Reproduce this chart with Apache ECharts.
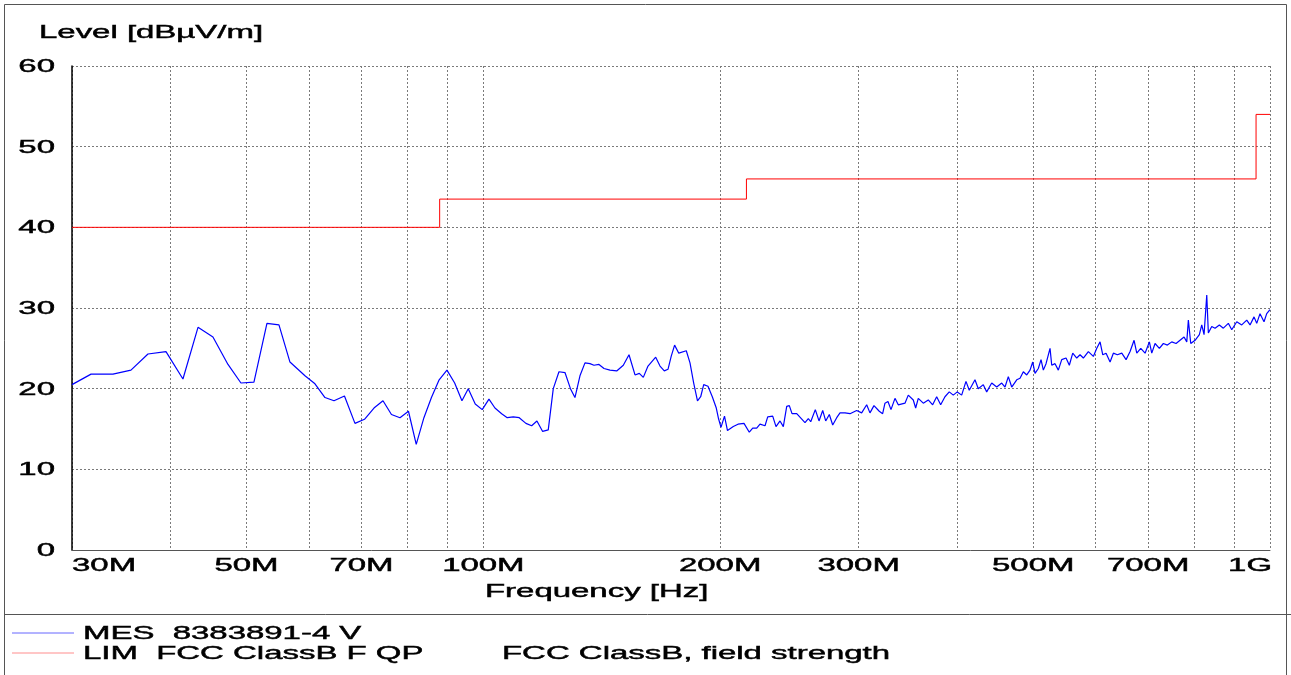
<!DOCTYPE html>
<html>
<head>
<meta charset="utf-8">
<title>Level vs Frequency</title>
<script src="https://cdn.jsdelivr.net/npm/echarts@6/dist/echarts.min.js"></script>
<style>
  html, body { margin: 0; padding: 0; background: #fff; }
  #chart { width: 1291px; height: 675px; }
</style>
</head>
<body>
<div id="chart"></div>
<script>
// frequency in MHz, level in dBµV/m
const yTicks = [0, 10, 20, 30, 40, 50, 60]
const xGridFreqs = [30, 40, 50, 60, 70, 80, 90, 100, 200, 300, 400, 500, 600, 700, 800, 900, 1000]
const xTickFreqs = [30, 50, 70, 100, 200, 300, 500, 700, 1000]
const xTickLabels = ['30M', '50M', '70M', '100M', '200M', '300M', '500M', '700M', '1G']

// limit line (FCC Class B, QP)
const limFreq = [30, 88, 216, 960, 1000]
const limLevel = [40, 43.5, 46, 54, 54]

// measured trace
const mesFreq = [
  30, 31.72, 33.82, 35.65, 37.47, 39.5, 41.51, 43.38, 45.32, 47.36,
  49.19, 51.1, 53.08, 54.98, 56.78, 59.33, 61.09, 62.91, 64.59, 66.6,
  68.68, 70.62, 72.61, 74.55, 76.42, 78.35, 80.32, 82.17, 84.04, 85.91,
  87.87, 89.9, 91.95, 93.93, 95.68, 97.66, 99.68, 101.66, 103.46, 105.51,
  107.25, 109.15, 111.08, 113.28, 115.19, 116.99, 118.96, 120.93, 122.72, 124.78,
  126.99, 129.05, 130.76, 132.69, 134.65, 136.63, 138.24, 140.29, 142.36, 144.88,
  147.75, 150.64, 153.17, 155.89, 157.86, 159.72, 161.93, 165.62, 167.72, 169.84,
  171.69, 173.3, 175.04, 177.2, 181.13, 183.11, 185.1, 187.17, 188.93, 190.6,
  193.01, 195.46, 197.76, 199.04, 200.5, 202.56, 204.35, 207.85, 210.73, 214.46,
  217.82, 220, 222.59, 224.75, 228.07, 229.88, 233.27, 235.53, 238.31, 240.62,
  243.03, 244.89, 246.83, 250.25, 256.4, 258.89, 260.71, 264.24, 267.12, 270.03,
  272.41, 275.3, 278.05, 281.33, 284.06, 288.25, 292.5, 298.25, 302.64, 307.12,
  310.09, 313.74, 318.65, 321.82, 324, 326.87, 329.76, 333.64, 336.87, 343.55,
  346.89, 351.99, 354.47, 357.18, 362.45, 367.79, 372.55, 376.94, 381.38, 386.21,
  391.11, 395.71, 400.37, 405.56, 410.7, 414.69, 421.68, 425.78, 432.06, 436.38,
  442.83, 449.37, 456, 460.43, 464.9, 469.55, 471.77, 476.48, 481.1, 485.78,
  490.64, 495.4, 499.33, 502.7, 507.57, 511.61, 515.07, 519.16, 525.28, 527.89,
  533, 538.18, 543.56, 550.46, 555.8, 561.35, 567.98, 573.5, 579.08, 587.62,
  596.3, 602.27, 608.12, 612.95, 618.9, 626.19, 632.26, 639.7, 648, 656.21,
  663.94, 671.75, 677.09, 685.06, 693.74, 702.52, 707.46, 714.33, 723.37, 731.89,
  740.51, 750.09, 759.59, 768.53, 777.59, 783.77, 787.44, 792.99, 803.04, 813.21,
  818.94, 824.46, 831, 834.9, 843.24, 851.43, 862.2, 872.34, 885.21, 894.06,
  907.26, 920.61, 934.17, 943.23, 954.33, 961.89, 971.22, 982.65, 990.45, 1000
]
const mesLevel = [
  20.5, 21.8, 21.8, 22.3, 24.3, 24.6, 21.2, 27.6, 26.4, 23.0,
  20.7, 20.8, 28.1, 27.9, 23.3, 21.6, 20.6, 18.9, 18.5, 19.1,
  15.7, 16.2, 17.6, 18.5, 16.8, 16.4, 17.2, 13.1, 16.4, 18.9,
  21.1, 22.3, 20.7, 18.5, 20.0, 18.1, 17.4, 18.7, 17.6, 16.9,
  16.4, 16.5, 16.4, 15.7, 15.4, 16.0, 14.7, 14.9, 20.0, 22.1,
  22.0, 20.0, 18.9, 21.6, 23.2, 23.1, 22.9, 23.0, 22.5, 22.3,
  22.2, 22.9, 24.2, 21.7, 21.9, 21.4, 22.8, 23.9, 22.8, 22.2,
  22.4, 24.0, 25.4, 24.4, 24.7, 23.2, 20.7, 18.5, 19.0, 20.5,
  20.3, 19.0, 17.6, 16.3, 15.2, 16.6, 14.8, 15.3, 15.6, 15.7,
  14.6, 15.1, 15.1, 15.6, 15.4, 16.5, 16.6, 15.3, 16.0, 15.3,
  17.8, 17.9, 16.9, 16.9, 15.8, 16.3, 15.9, 17.4, 16.0, 17.3,
  16.0, 16.8, 15.5, 16.4, 17.0, 17.0, 16.9, 17.3, 17.0, 18.0,
  17.0, 17.9, 17.2, 16.9, 18.2, 18.4, 17.4, 18.8, 18.0, 18.2,
  19.2, 18.6, 17.6, 18.8, 18.2, 18.6, 18.0, 19.0, 18.0, 19.0,
  19.6, 19.2, 19.6, 19.2, 20.9, 19.8, 21.1, 20.0, 20.5, 19.6,
  20.7, 20.2, 20.7, 20.2, 21.5, 20.2, 20.0, 21.1, 21.3, 22.1,
  21.7, 22.3, 23.3, 21.9, 22.5, 23.6, 22.3, 23.1, 25.0, 22.9,
  23.1, 22.3, 23.6, 23.8, 22.9, 24.4, 23.8, 24.2, 23.8, 24.6,
  24.0, 25.0, 25.8, 24.2, 24.4, 23.3, 24.4, 24.2, 24.4, 23.6,
  24.6, 26.0, 24.4, 25.0, 24.4, 25.8, 24.4, 25.6, 25.0, 25.6,
  25.4, 25.8, 25.6, 26.0, 26.4, 25.8, 28.5, 25.6, 26.0, 26.7,
  27.9, 26.7, 31.6, 26.9, 27.7, 27.5, 27.9, 27.5, 28.1, 27.3,
  28.3, 27.9, 28.5, 27.9, 28.9, 28.1, 29.3, 28.3, 29.3, 29.8
]

const mesName = 'MES  8383891-4 V'
const limName = 'LIM  FCC ClassB F QP'
const limNote = 'FCC ClassB, field strength'

const FONT = '18px "Liberation Sans", Arial, sans-serif'
const SX = 1.83 // the original report uses a wide, stretched font

const gridDash = { color: '#7a7a7a', width: 1, type: [2, 2] }

const chart = echarts.init(document.getElementById('chart'), null, { renderer: 'canvas' })

chart.setOption({
  animation: false,
  backgroundColor: '#fff',
  grid: { left: 72, right: 21, top: 66, bottom: 125, containLabel: false, outerBoundsMode: 'none' },
  xAxis: {
    type: 'log',
    logBase: 10,
    min: 30,
    max: 1000,
    axisLine: { show: true, lineStyle: { color: '#555', width: 1 } },
    axisTick: { show: false, customValues: xGridFreqs },
    axisLabel: { show: false },
    splitLine: { show: true, lineStyle: gridDash },
    minorSplitLine: { show: false },
  },
  yAxis: {
    type: 'value',
    min: 0,
    max: 60,
    interval: 10,
    axisLine: { show: true, lineStyle: { color: '#000', width: 1.5 } },
    axisTick: { show: false },
    axisLabel: { show: false },
    splitLine: { show: true, lineStyle: gridDash },
  },
  series: [
    {
      name: limName,
      type: 'line',
      step: 'end',
      data: limFreq.map((f, i) => [f, limLevel[i]]),
      showSymbol: false,
      symbol: 'none',
      lineStyle: { color: '#ff0000', width: 1 },
      z: 3,
    },
    {
      name: mesName,
      type: 'line',
      data: mesFreq.map((f, i) => [f, mesLevel[i]]),
      showSymbol: false,
      symbol: 'none',
      lineStyle: { color: '#0000ff', width: 1.2 },
      z: 4,
    },
  ],
})

function txt(x, y, s, align) {
  return {
    type: 'text',
    x: x,
    y: y,
    scaleX: SX,
    silent: true,
    z: 10,
    style: {
      text: s,
      font: FONT,
      fill: '#000',
      stroke: '#000',
      lineWidth: 0.45,
      align: align || 'left',
      textAlign: align || 'left',
      verticalAlign: 'middle',
      textVerticalAlign: 'middle',
    },
  }
}

function line(x1, y1, x2, y2, color, opacity) {
  return {
    type: 'line',
    silent: true,
    z: 10,
    shape: { x1, y1, x2, y2 },
    style: { stroke: color, lineWidth: 1, opacity: opacity == null ? 1 : opacity },
  }
}

const px = v => chart.convertToPixel({ xAxisIndex: 0 }, v)
const py = v => chart.convertToPixel({ yAxisIndex: 0 }, v)

const graphics = []

// frame around the report and the legend separator
graphics.push({
  type: 'rect', silent: true, z: 9,
  shape: { x: 4.5, y: 4.5, width: 1282, height: 680 },
  style: { fill: null, stroke: '#555', lineWidth: 1 },
})
graphics.push(line(4, 614.5, 1291, 614.5, '#555'))

// axis titles
graphics.push(txt(39, 33, 'Level [dBµV/m]', 'left'))
graphics.push(txt(485, 592, 'Frequency [Hz]', 'left'))

// y tick labels
yTicks.forEach(v => {
  graphics.push(txt(55, py(v) + 1, String(v), 'right'))
})

// x tick labels
xTickFreqs.forEach((f, i) => {
  let align = 'center'
  let x = px(f)
  if (i === 0) align = 'left'
  if (i === xTickFreqs.length - 1) { align = 'right'; x += 2 }
  graphics.push(txt(x, 566, xTickLabels[i], align))
})

// legend
graphics.push(line(12, 633, 74, 633, '#0000ff', 0.6))
graphics.push(txt(83, 634, mesName, 'left'))
graphics.push(line(12, 653, 74, 653, '#ff0000', 0.45))
graphics.push(txt(83, 654, limName, 'left'))
graphics.push(txt(502, 654, limNote, 'left'))

chart.setOption({ graphic: graphics })
</script>
</body>
</html>
